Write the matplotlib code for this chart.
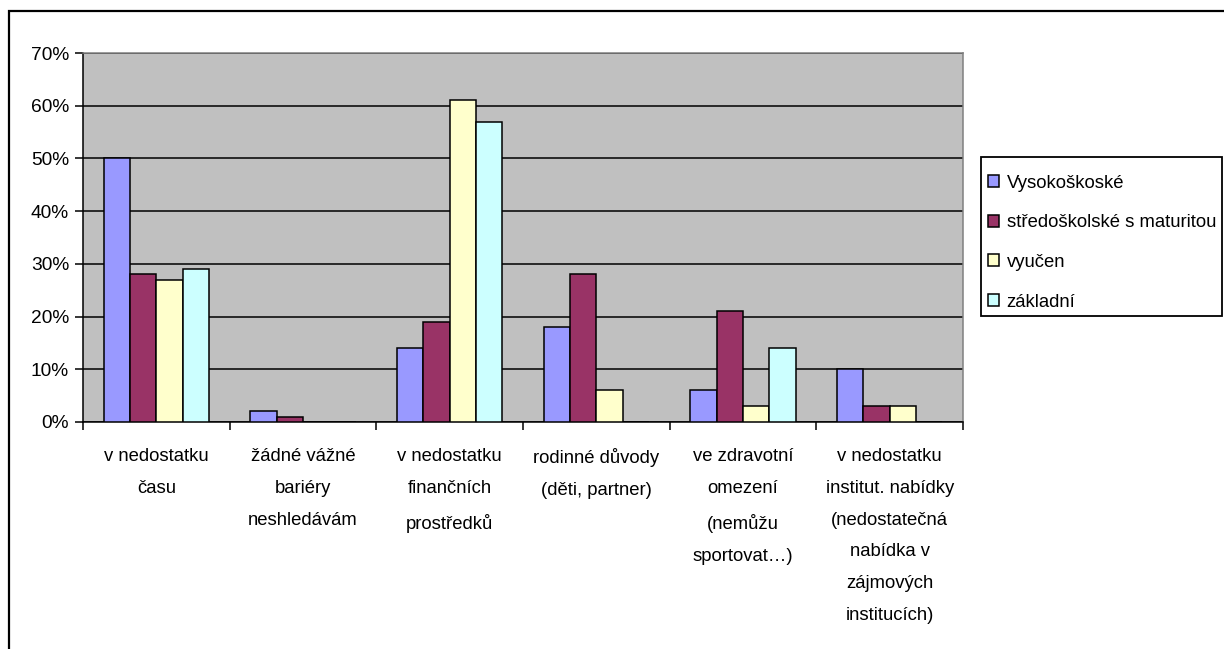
import matplotlib
matplotlib.use("Agg")
import matplotlib.pyplot as plt
from matplotlib.patches import Rectangle
from matplotlib.ticker import FixedLocator, PercentFormatter
import numpy as np

categories = [
    "v nedostatku\nčasu",
    "žádné vážné\nbariéry\nneshledávám",
    "v nedostatku\nfinančních\nprostředků",
    "rodinné důvody\n(děti, partner)",
    "ve zdravotní\nomezení\n(nemůžu\nsportovat…)",
    "v nedostatku\ninstitut. nabídky\n(nedostatečná\nnabídka v\nzájmových\ninstitucích)",
]
series_names = ["Vysokoškoské", "středoškolské s maturitou", "vyučen", "základní"]
vysokoskolske = [50, 2, 14, 18, 6, 10]
stredoskolske = [28, 1, 19, 28, 21, 3]
vyucen = [27, 0, 61, 6, 3, 3]
zakladni = [29, 0, 57, 0, 14, 0]
y_ticks = [0, 10, 20, 30, 40, 50, 60, 70]

colors = ["#9999FF", "#993366", "#FFFFCC", "#CCFFFF"]

plt.rcParams['font.family'] = ['Liberation Sans', 'DejaVu Sans']
FS = 13.3

W, H = 1224, 649
fig = plt.figure(figsize=(W / 100, H / 100), dpi=100)
fig.patch.set_facecolor("white")

left, right, top, bottom = 83, 963, 53, 422
ax = fig.add_axes([left / W, 1 - bottom / H, (right - left) / W, (bottom - top) / H])
ax.set_facecolor("#C0C0C0")

x = np.arange(len(categories))
bw = 0.18
all_series = [vysokoskolske, stredoskolske, vyucen, zakladni]
handles = []
for k, (vals, c, name) in enumerate(zip(all_series, colors, series_names)):
    b = ax.bar(x + (k - 1.5) * bw, vals, width=bw, color=c, edgecolor="black",
               linewidth=1.1, label=name, zorder=3)
    handles.append(b)

ax.set_xlim(-0.5, len(categories) - 0.5)
ax.set_ylim(0, 70)
ax.set_yticks(y_ticks)
ax.yaxis.set_major_formatter(PercentFormatter(decimals=0))
ax.grid(axis="y", color="black", linewidth=1.1, zorder=1)
ax.set_axisbelow(True)

ax.set_xticks(x)
ax.set_xticklabels(categories, fontsize=FS, linespacing=2.13, va="top")
ax.xaxis.set_minor_locator(FixedLocator(np.arange(-0.5, len(categories), 1.0)))
ax.tick_params(axis="x", which="major", length=0, pad=19)
ax.tick_params(axis="x", which="minor", length=6, width=1.1, color="black", direction="out")
ax.tick_params(axis="y", length=6, width=1.1, pad=4, labelsize=FS + 0.5, direction="out")

for s in ["left", "bottom"]:
    ax.spines[s].set_color("black")
    ax.spines[s].set_linewidth(1.1)
for s in ["top", "right"]:
    ax.spines[s].set_color("#808080")
    ax.spines[s].set_linewidth(1.1)

leg = fig.legend(handles=handles, labels=series_names, loc="upper left",
                 bbox_to_anchor=(987.7 / W, 1 - 174.5 / H), fontsize=FS,
                 frameon=False,
                 handlelength=0.62, handleheight=0.62, handletextpad=0.4,
                 borderpad=0.0, labelspacing=1.23, borderaxespad=0)

# legend frame
fig.patches.append(Rectangle((981 / W, 1 - 315.7 / H), (1222 - 981) / W, (315.7 - 157.3) / H,
                             transform=fig.transFigure, fill=False,
                             edgecolor="black", linewidth=1.3))

# outer chart border
fig.patches.append(Rectangle((9 / W, 0 - 0.01), 1.1, 1 - 11 / H + 0.01,
                             transform=fig.transFigure, fill=False,
                             edgecolor="black", linewidth=1.6))

fig.savefig("out.png", dpi=100)
